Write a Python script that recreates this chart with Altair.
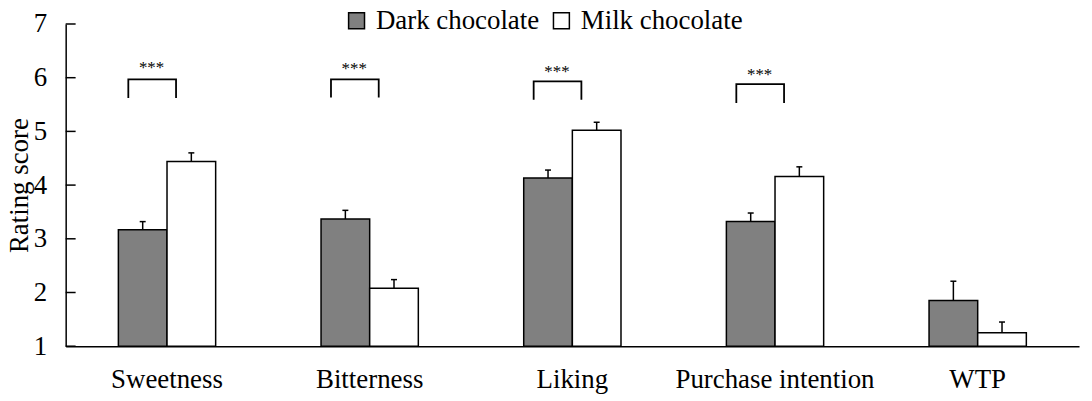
import altair as alt
import pandas as pd

categories = ["Sweetness", "Bitterness", "Liking", "Purchase intention", "WTP"]
groups = ["Dark chocolate", "Milk chocolate"]
dark_mean = [3.17, 3.37, 4.13, 3.32, 1.85]
dark_se = [0.15, 0.16, 0.15, 0.16, 0.36]
milk_mean = [4.44, 2.08, 5.02, 4.16, 1.25]
milk_se = [0.16, 0.16, 0.15, 0.18, 0.20]

sig_categories = ["Sweetness", "Bitterness", "Liking", "Purchase intention"]
bracket_top = [5.97, 5.97, 5.93, 5.88]
bracket_bottom = [5.62, 5.63, 5.59, 5.53]
star_y = [6.09, 6.06, 6.01, 5.95]
star_label = "***"
y_ticks = [1, 2, 3, 4, 5, 6, 7]

FONT = "Liberation Serif"
FS = 27

rows = []
for c, dm, ds, mm, ms in zip(categories, dark_mean, dark_se, milk_mean, milk_se):
    rows.append({"cat": c, "group": groups[0], "value": dm, "upper": dm + ds})
    rows.append({"cat": c, "group": groups[1], "value": mm, "upper": mm + ms})
bars_df = pd.DataFrame(rows)

brk = []
for c, t, b in zip(sig_categories, bracket_top, bracket_bottom):
    brk += [
        {"cat": c, "group": groups[0], "value": b, "ord": 0},
        {"cat": c, "group": groups[0], "value": t, "ord": 1},
        {"cat": c, "group": groups[1], "value": t, "ord": 2},
        {"cat": c, "group": groups[1], "value": b, "ord": 3},
    ]
brk_df = pd.DataFrame(brk)
stars_df = pd.DataFrame({"cat": sig_categories, "value": star_y, "label": [star_label] * 4})
ticks_df = pd.DataFrame({"value": y_ticks})

yscale = alt.Scale(domain=[1, 7], nice=False, zero=False)
yaxis = alt.Axis(title="Rating score", values=y_ticks, ticks=False, tickSize=0,
                 labelPadding=19, labelFontSize=FS, titleFontSize=FS,
                 titleFontWeight="normal", titlePadding=0, domainColor="black",
                 domainWidth=1.5, grid=False, labelColor="black", titleColor="black")
xscale = alt.Scale(domain=categories, paddingInner=0.52, paddingOuter=0.26)
xaxis = alt.Axis(title=None, labelAngle=0, ticks=False, tickSize=0, labelPadding=21,
                 labelFontSize=FS, domainColor="black", domainWidth=1.5, grid=False,
                 labelColor="black", labelLimit=400)
X = alt.X("cat:N", scale=xscale, axis=xaxis, sort=categories)
XO = alt.XOffset("group:N", sort=groups, scale=alt.Scale(paddingInner=0, paddingOuter=0))

bars = alt.Chart(bars_df).mark_bar(stroke="black", strokeWidth=1.5, opacity=1).encode(
    x=X, xOffset=XO,
    y=alt.Y("value:Q", scale=yscale, axis=yaxis),
    y2=alt.datum(1),
    color=alt.Color("group:N", scale=alt.Scale(domain=groups, range=["#808080", "#ffffff"]),
                    legend=alt.Legend(title=None, orient="none", legendX=279, legendY=-17,
                                      direction="horizontal", symbolType="square",
                                      symbolSize=256, symbolStrokeColor="black",
                                      symbolStrokeWidth=1.5, labelFontSize=FS,
                                      labelOffset=6, columnPadding=8, padding=0,
                                      labelColor="black", symbolOpacity=1, labelLimit=400)),
)

stems = alt.Chart(bars_df).mark_rule(color="black", strokeWidth=1.5).encode(
    x=X, xOffset=XO,
    y=alt.Y("value:Q", scale=yscale, axis=yaxis),
    y2="upper:Q",
)

caps = alt.Chart(bars_df).mark_tick(color="black", thickness=1.5, size=6, orient="horizontal", opacity=1).encode(
    x=X, xOffset=XO,
    y=alt.Y("upper:Q", scale=yscale, axis=yaxis),
)

bars_layer = alt.layer(bars, stems, caps)

# bracket legs sit a little left of the bar centres
brackets = alt.Chart(brk_df).mark_line(color="black", strokeWidth=1.8).encode(
    x=X,
    xOffset=alt.XOffset("group:N", sort=groups,
                        scale=alt.Scale(type="point", range=[10, 58], padding=0)),
    y=alt.Y("value:Q", scale=yscale, axis=yaxis),
    detail="cat:N",
    order="ord:Q",
)

stars = alt.Chart(stars_df).mark_text(fontSize=17, dx=-15.5, baseline="alphabetic", align="center", color="black").encode(
    x=X,
    y=alt.Y("value:Q", scale=yscale, axis=yaxis),
    text="label:N",
)

inner_ticks = alt.Chart(ticks_df).mark_rule(color="black", strokeWidth=1.5).encode(
    y=alt.Y("value:Q", scale=yscale, axis=yaxis),
    x=alt.value(0), x2=alt.value(10),
)

chart = alt.layer(bars_layer, brackets, stars, inner_ticks).resolve_scale(
    xOffset="independent"
).properties(
    width=1019, height=324,
    autosize=alt.AutoSizeParams(type="none"),
    padding={"left": 58, "top": 15, "right": 5, "bottom": 50},
).configure_view(stroke=None).configure_axis(
    labelFont=FONT, titleFont=FONT
).configure_legend(labelFont=FONT).configure_text(font=FONT)

chart.save("out.html", embed_options={"renderer": "svg", "actions": False})
